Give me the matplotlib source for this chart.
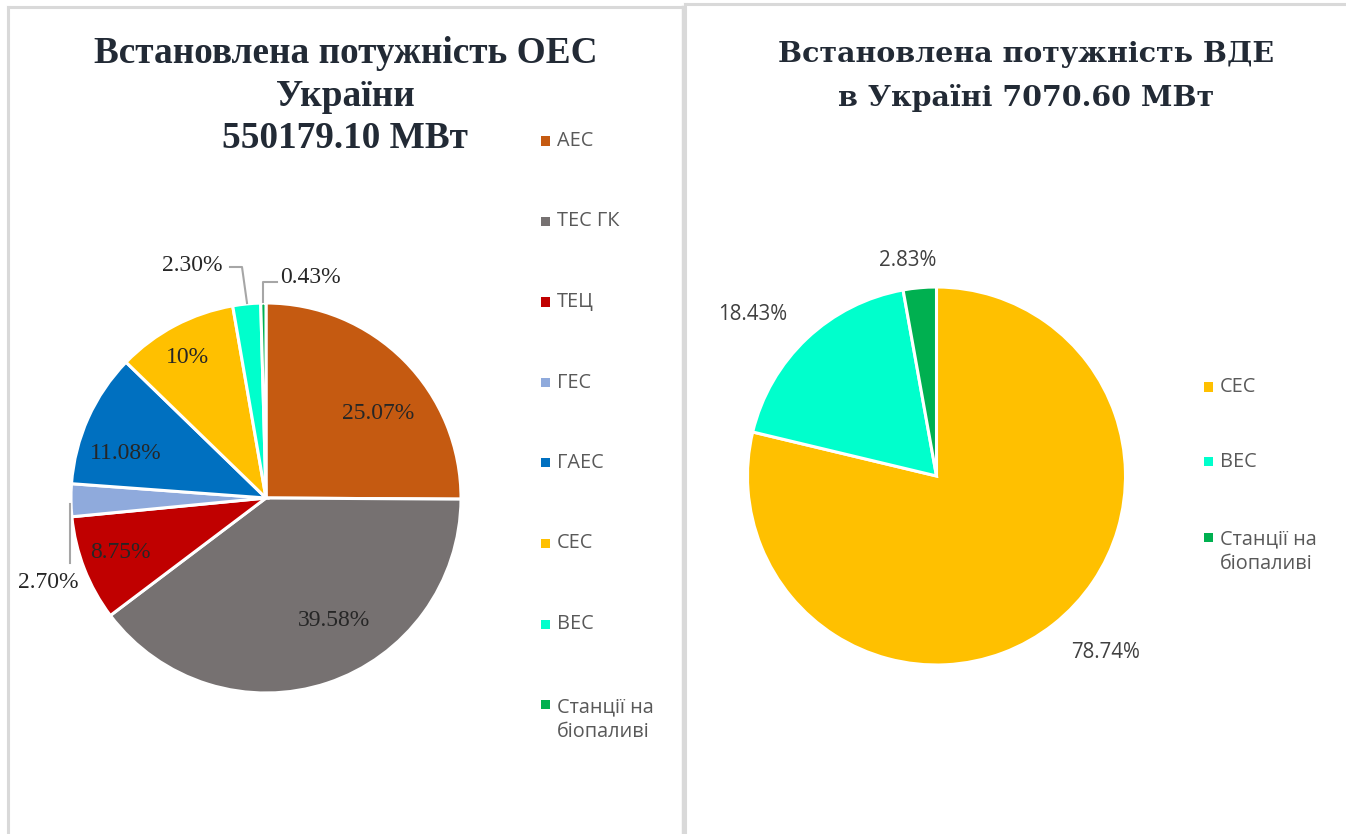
import matplotlib.pyplot as plt
from matplotlib.patches import Rectangle
from matplotlib.lines import Line2D

W, H = 1346, 834

# ---- data ----
oes_labels = ["АЕС", "ТЕС ГК", "ТЕЦ", "ГЕС", "ГАЕС", "СЕС", "ВЕС", "Станції на\nбіопаливі"]
oes_share = [25.07, 39.58, 8.75, 2.70, 11.08, 10.0, 2.30, 0.43]
oes_text = ["25.07%", "39.58%", "8.75%", "2.70%", "11.08%", "10%", "2.30%", "0.43%"]
oes_colors = ["#C55A11", "#767171", "#C00000", "#8FAADC", "#0070C0", "#FFC000", "#00FFCC", "#00B050"]

vde_labels = ["СЕС", "ВЕС", "Станції на\nбіопаливі"]
vde_share = [78.74, 18.43, 2.83]
vde_text = ["78.74%", "18.43%", "2.83%"]
vde_colors = ["#FFC000", "#00FFCC", "#00B050"]


def fx(x):
    return x / W


def fy(y):
    return 1 - y / H


fig = plt.figure(figsize=(W / 100, H / 100), dpi=100)
fig.patch.set_facecolor("white")

# panel borders
border = "#d9d9d9"
fig.add_artist(Line2D([fx(7.5), fx(7.5)], [fy(7), 0], color=border, lw=2.2))
fig.add_artist(Line2D([fx(7.5), fx(682)], [fy(7), fy(7)], color=border, lw=2.2))
fig.add_artist(Line2D([fx(683), fx(683)], [fy(7), 0], color=border, lw=2.5))
fig.add_artist(Line2D([fx(685), fx(685)], [fy(4), 0], color=border, lw=2.2))
fig.add_artist(Line2D([fx(685), 1], [fy(4), fy(4)], color=border, lw=2.2))

title_c = "#222A35"
serif = "Liberation Serif"
leg_font = "Open Sans"


def legend_rows(labels, colors, x0, y0, step):
    for i, (lab, col) in enumerate(zip(labels, colors)):
        y = y0 + i * step
        fig.add_artist(Rectangle((fx(x0), fy(y + 4.5)), 9 / W, 9 / H, color=col, lw=0))
        # multi-line labels: keep the first line level with the marker
        yc = y + 15 * lab.count("\n")
        fig.text(fx(x0 + 16), fy(yc), lab, ha="left", va="center",
                 fontsize=14.3, family=leg_font, color="#595959", linespacing=1.3)


# ---- left pie ----
cx, cy, R = 266, 498, 195
axl = fig.add_axes([fx(cx - R), fy(cy + R), 2 * R / W, 2 * R / H])
axl.pie(oes_share, colors=oes_colors, startangle=90, counterclock=False,
        wedgeprops=dict(edgecolor="white", linewidth=2.2))
axl.set_xlim(-1, 1)
axl.set_ylim(-1, 1)
axl.axis("off")


def lp(x, y):
    return ((x - cx) / R, (cy - y) / R)


oes_pos = [(378, 413), (334, 620), (120, 552), (48, 582), (126, 453), (187, 357), (192, 265), (310, 277)]
for t, (x, y) in zip(oes_text, oes_pos):
    axl.text(*lp(x, y), t, ha="center", va="center", fontsize=17,
             family=serif, color="#262626")

lead = "#a6a6a6"
for pts in ([(230, 267), (242, 267), (247, 303)],
            [(277, 282), (263, 282), (263, 302)],
            [(70, 563), (70, 504)]):
    xs, ys = zip(*[lp(x, y) for x, y in pts])
    axl.plot(xs, ys, color=lead, lw=1.5, clip_on=False)

# left title
for txt, x, y in (("Встановлена потужність ОЕС", 346, 63),
                  ("України", 345, 106),
                  ("550179.10 МВт", 345, 148)):
    fig.text(fx(x), fy(y), txt, ha="center", va="baseline",
             fontsize=26.8, weight="bold", family=serif, color=title_c)

legend_rows(oes_labels, oes_colors, 541, 141, 80.5)

# ---- right pie ----
rx, ry, RR = 936.5, 476, 189
axr = fig.add_axes([fx(rx - RR), fy(ry + RR), 2 * RR / W, 2 * RR / H])
axr.pie(vde_share, colors=vde_colors, startangle=90, counterclock=False,
        wedgeprops=dict(edgecolor="white", linewidth=2.2))
axr.set_xlim(-1, 1)
axr.set_ylim(-1, 1)
axr.axis("off")

vde_pos = [(1106, 653), (753, 314), (908, 260)]
for t, (x, y) in zip(vde_text, vde_pos):
    axr.text((x - rx) / RR, (ry - y) / RR, t, ha="center", va="center",
             fontsize=14.8, family=leg_font, color="#404040")

fig.text(fx(1026.5), fy(62), "Встановлена потужність ВДЕ", ha="center", va="baseline",
         fontsize=20.5, weight="bold", family="DejaVu Serif", color=title_c)
fig.text(fx(1026.5), fy(106), "в Україні 7070.60 МВт", ha="center", va="baseline",
         fontsize=20.5, weight="bold", family="DejaVu Serif", color=title_c)

legend_rows(vde_labels, vde_colors, 1204, 387, 75)

fig.savefig("out.png", dpi=100)
